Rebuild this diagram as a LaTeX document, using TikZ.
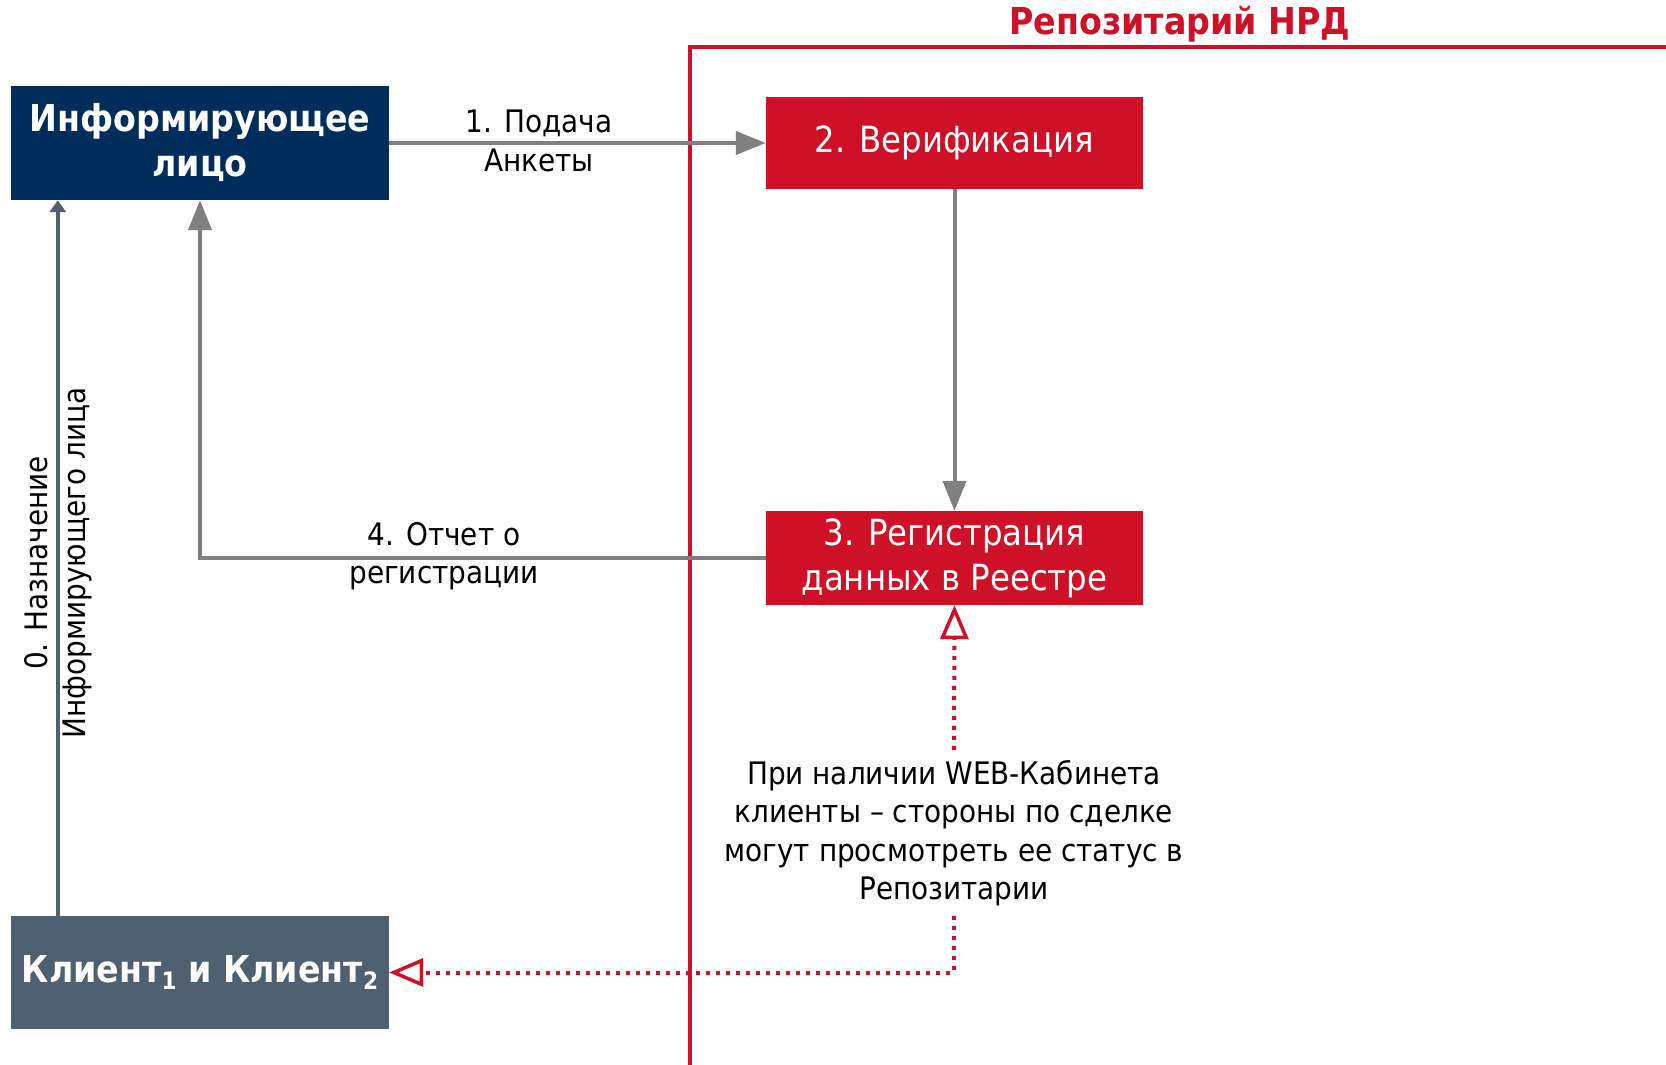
\documentclass[tikz,border=0pt]{standalone}
\usepackage{fontspec}
\setmainfont{DejaVu Sans Condensed}
\usetikzlibrary{arrows.meta}
\definecolor{navy}{RGB}{0,45,92}
\definecolor{nrdred}{RGB}{206,17,38}
\definecolor{slate}{RGB}{79,97,112}
\definecolor{arrgray}{RGB}{128,128,128}
\newcommand{\lowsub}[1]{\raisebox{-0.18em}{\fontsize{24}{24}\selectfont #1}}
\tikzset{
  boxnode/.style={rectangle, inner sep=0pt, text=white, align=center, font=\fontsize{36}{45}\selectfont},
  boldbox/.style={boxnode, font=\bfseries\fontsize{37}{45}\selectfont},
  flow/.style={draw=arrgray, line width=4pt, -{Triangle[length=30pt,width=23pt]}},
  weblink/.style={draw=nrdred, line width=4pt, dash pattern=on 4pt off 6pt, -{Triangle[open,length=34pt,width=28pt,line width=3.5pt]}},
  lbl/.style={align=center, font=\fontsize{31}{38.5}\selectfont, inner sep=0pt}
}
\begin{document}
\begin{tikzpicture}[x=1pt,y=-1pt]
\useasboundingbox[fill=white] (0,0) rectangle (1666,1065);
% frame
\draw[nrdred, line width=4pt] (690,1070) |- (1670,47);
\node[text=nrdred, font=\bfseries\fontsize{37}{40}\selectfont, inner sep=0pt] (title) at (1180,24) {Репозитарий НРД};
% boxes
\node[boldbox, fill=navy, minimum width=378pt, minimum height=114pt] (info) at (200,143) {Информирующее\\лицо};
\node[boxnode, fill=nrdred, minimum width=377pt, minimum height=92pt] (verif) at (954.5,143) {2. Верификация};
\node[boxnode, fill=nrdred, minimum width=377pt, minimum height=94pt] (reg) at (954.5,558) {3. Регистрация\\данных в Реестре};
\node[boldbox, fill=slate, minimum width=378pt, minimum height=113pt] (client) at (200,972.5) {Клиент\lowsub{1} и Клиент\lowsub{2}};
% note
\node[lbl, inner ysep=10pt] (note) at (954,833) {При наличии WEB-Кабинета\\клиенты – стороны по сделке\\могут просмотреть ее статус в\\Репозитарии};
% arrows
\draw[flow] (info.east) -- (verif.west);
\node[lbl] (l1) at (539,141) {1. Подача\\Анкеты};
\draw[flow] (verif.south) -- (reg.north);
\draw[flow] (reg.west) -| (info.south);
\node[lbl] (l4) at (444,556) {4. Отчет о\\регистрации};
\draw[draw=slate, line width=4pt, -{Triangle[length=12pt,width=16pt]}] ([xshift=47pt]client.north west) -- ([xshift=47pt]info.south west);
\node[lbl, rotate=90] (l0) at (58,563) {0. Назначение\\Информирующего лица};
\draw[weblink] (note.north) -- (reg.south);
\draw[weblink] (note.south) |- (client.east);
\end{tikzpicture}
\end{document}
